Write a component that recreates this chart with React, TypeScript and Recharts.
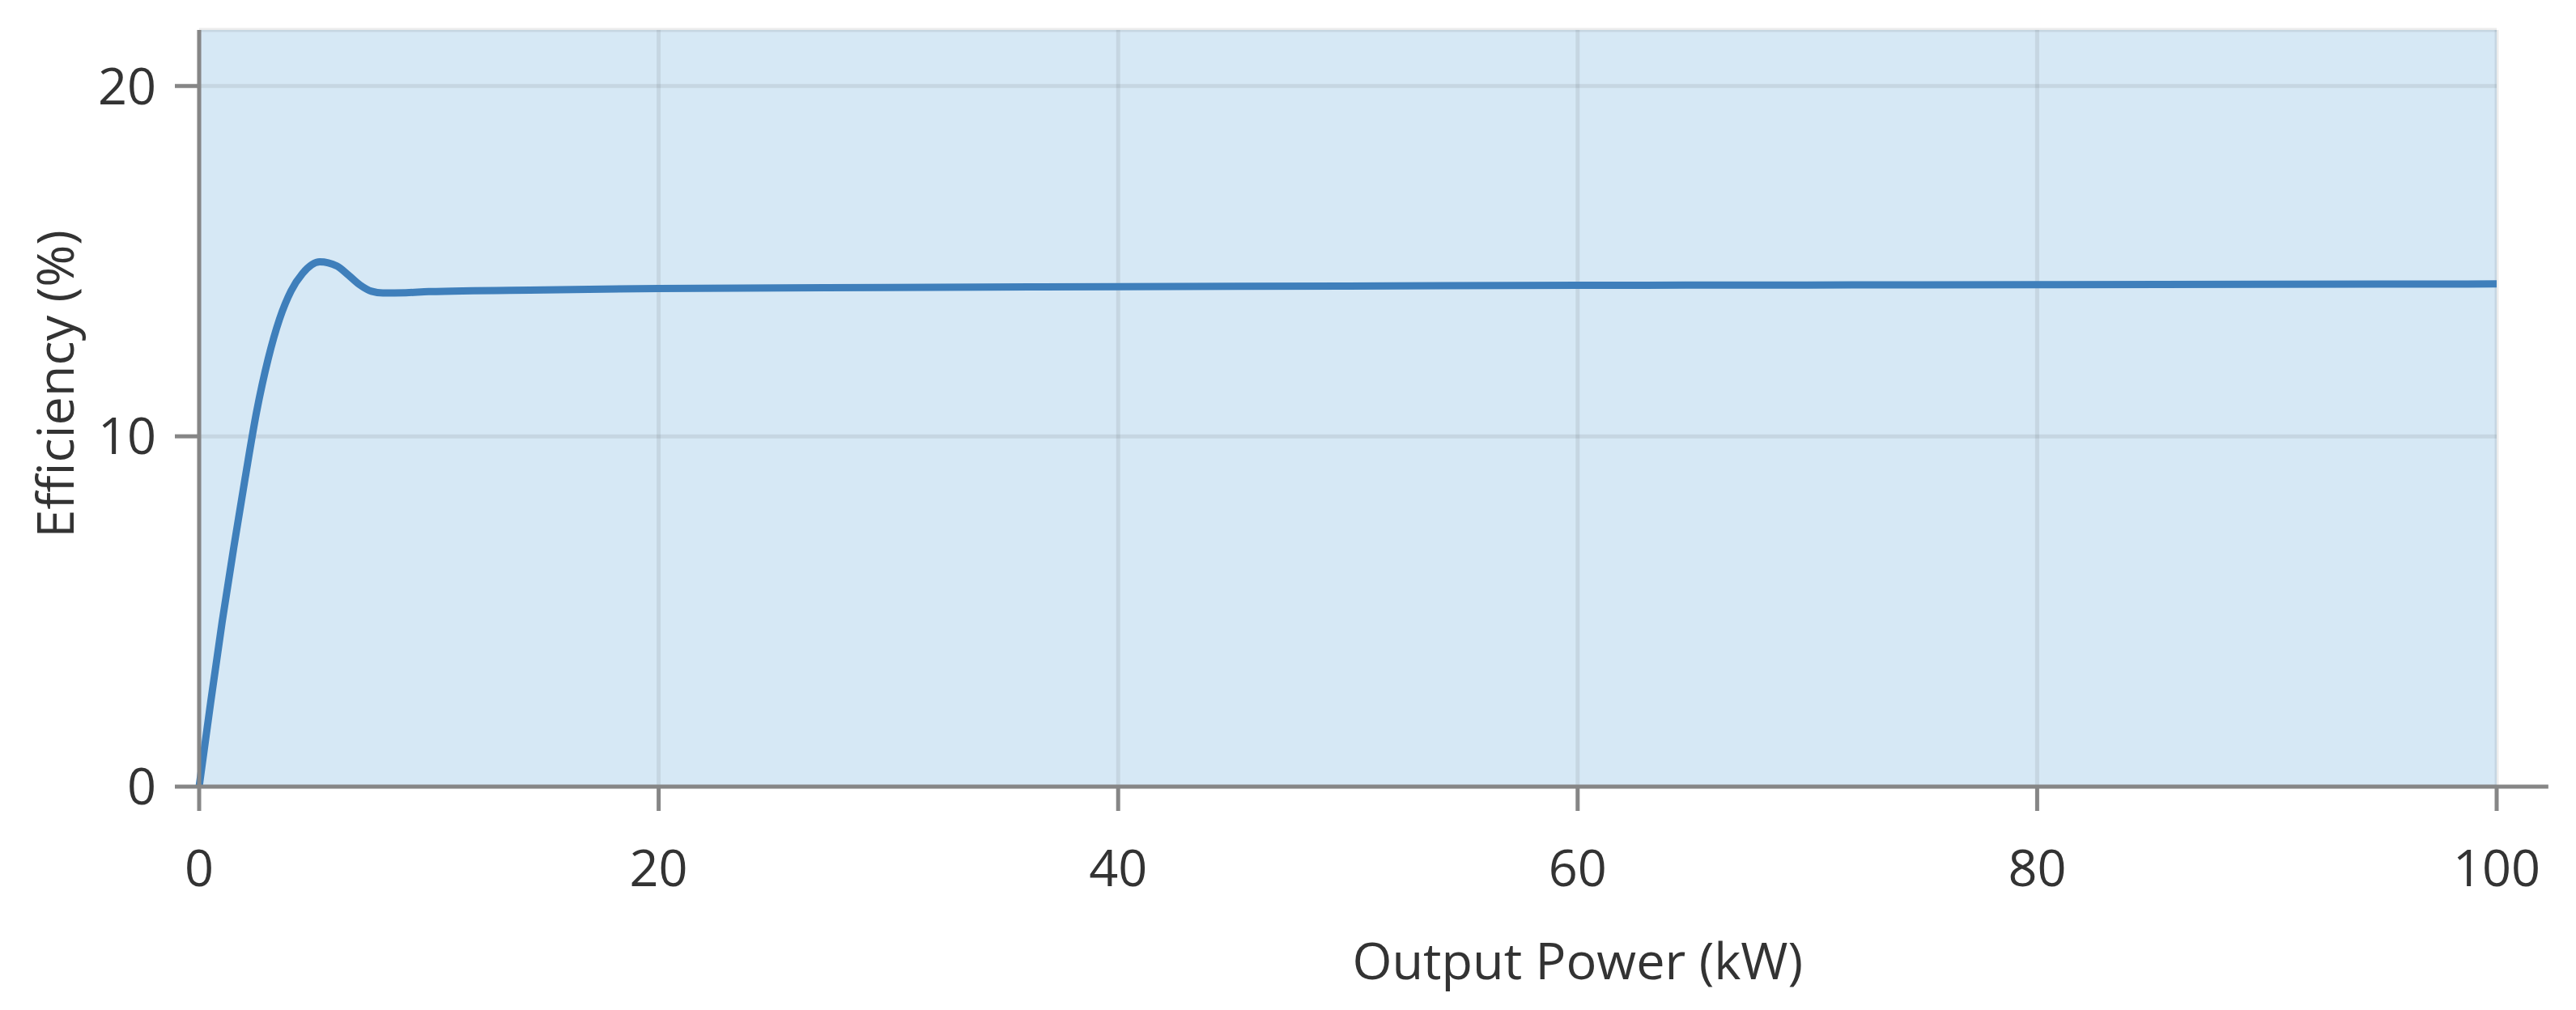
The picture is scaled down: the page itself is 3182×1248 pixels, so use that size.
import { LineChart, Line, XAxis, YAxis, CartesianGrid, ReferenceLine, Label } from "recharts"

document.body.style.margin = "0"

const powerKw = [0, 0.5, 1, 1.5, 2, 2.5, 3, 3.5, 4, 4.5, 5.25, 6, 6.5, 7, 7.5, 8, 9, 10, 15, 20, 30, 40, 50, 60, 70, 80, 90, 100]
const efficiencyPct = [
  0, 2.4, 4.7, 6.8, 8.8, 10.7, 12.2, 13.35, 14.15, 14.65, 14.98, 14.86, 14.6, 14.32, 14.14, 14.09, 14.1,
  14.13, 14.18, 14.22, 14.25, 14.27, 14.29, 14.31, 14.32, 14.33, 14.34, 14.35,
]
const xTicks = [0, 20, 40, 60, 80, 100]
const yTicks = [0, 10, 20]

const data = powerKw.map((p, i) => ({ power: p, efficiency: efficiencyPct[i] }))

const FONT = '"Segoe UI", "Open Sans", sans-serif'
const TEXT = "#333333"
const AXIS = "#868686"
const FS = 63

const XTitle = ({ viewBox }: any) => (
  <text
    x={viewBox.x + viewBox.width * 0.6}
    y={viewBox.y + 238}
    textAnchor="middle"
    fill={TEXT}
    fontSize={FS}
    fontFamily={FONT}
  >
    Output Power (kW)
  </text>
)

const YTitle = ({ viewBox }: any) => {
  const x = 66
  const y = viewBox.y + viewBox.height / 2 - 30
  return (
    <text
      x={x}
      y={y}
      transform={`rotate(-90, ${x}, ${y})`}
      textAnchor="middle"
      dominantBaseline="central"
      fill={TEXT}
      fontSize={FS}
      fontFamily={FONT}
    >
      Efficiency (%)
    </text>
  )
}

export default function App() {
  return (
    <LineChart width={3182} height={1248} data={data} margin={{ top: 37, right: 98, bottom: 0, left: 0 }}>
      {/* plot background + grid */}
      <CartesianGrid fill="#d6e8f5" stroke="#000" strokeOpacity={0.075} strokeWidth={5} />
      <XAxis
        type="number"
        dataKey="power"
        domain={[0, 100]}
        ticks={xTicks}
        height={276}
        tickSize={30}
        tickMargin={48}
        axisLine={{ stroke: AXIS, strokeWidth: 5 }}
        tickLine={{ stroke: AXIS, strokeWidth: 5 }}
        tick={{ fill: TEXT, fontSize: FS, fontFamily: FONT }}
      >
        <Label content={XTitle} />
      </XAxis>
      <YAxis
        type="number"
        domain={[0, 21.6]}
        ticks={yTicks}
        width={246}
        tickSize={30}
        tickMargin={23}
        axisLine={{ stroke: AXIS, strokeWidth: 5 }}
        tickLine={{ stroke: AXIS, strokeWidth: 5 }}
        tick={{ fill: TEXT, fontSize: FS, fontFamily: FONT }}
      >
        <Label content={YTitle} />
      </YAxis>
      {/* x axis line runs a little past the last tick */}
      <ReferenceLine
        segment={[{ x: 100, y: 0 }, { x: 102.25, y: 0 }]}
        ifOverflow="visible"
        stroke={AXIS}
        strokeWidth={5}
      />
      <Line
        type="monotone"
        dataKey="efficiency"
        stroke="#3f7fbb"
        strokeWidth={9}
        dot={false}
        activeDot={false}
        isAnimationActive={false}
      />
    </LineChart>
  )
}
